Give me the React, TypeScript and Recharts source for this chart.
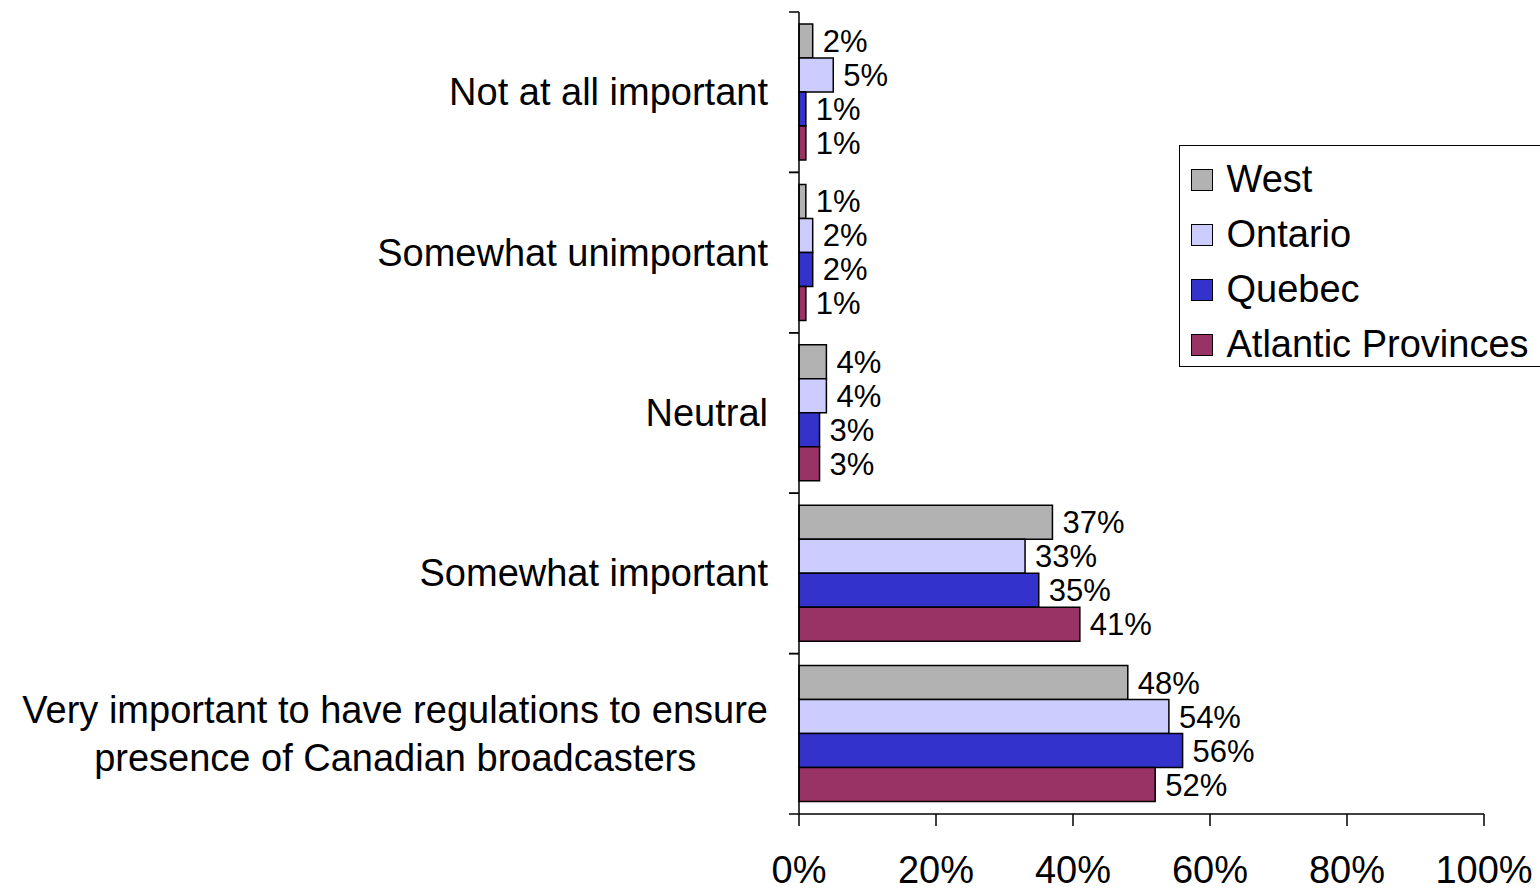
import { Bar, BarChart, LabelList, Legend, XAxis, YAxis } from "recharts"

const CATEGORIES = [
  "Not at all important",
  "Somewhat unimportant",
  "Neutral",
  "Somewhat important",
  "Very important to have regulations to ensure\npresence of Canadian broadcasters",
]
const WEST = [2, 1, 4, 37, 48]
const ONTARIO = [5, 2, 4, 33, 54]
const QUEBEC = [1, 2, 3, 35, 56]
const ATLANTIC = [1, 1, 3, 41, 52]
const X_TICKS = [0, 20, 40, 60, 80, 100]

const SERIES = [
  { key: "west", name: "West", values: WEST, color: "#B2B2B2" },
  { key: "ontario", name: "Ontario", values: ONTARIO, color: "#CCCCFF" },
  { key: "quebec", name: "Quebec", values: QUEBEC, color: "#3333CC" },
  { key: "atlantic", name: "Atlantic Provinces", values: ATLANTIC, color: "#993366" },
]

const W = 1540
const H = 892
const MARGIN = { top: 12, right: 56, bottom: 0, left: 0 }
const X_AXIS_H = 78
const Y_AXIS_W = 799
const BAND = (H - MARGIN.top - MARGIN.bottom - X_AXIS_H) / CATEGORIES.length
const TICK_SIZE = 10
const TICK_MARGIN = 21
const FONT_FAMILY = "'Liberation Sans', Arial, sans-serif"
const LABEL_SIZE = 38
const VALUE_SIZE = 31
const LINE_H = 48

const data = CATEGORIES.map((name, i) => {
  const row: Record<string, string | number> = { name }
  SERIES.forEach((s) => (row[s.key] = s.values[i]))
  return row
})

let measureCtx: CanvasRenderingContext2D | null = null
function textWidth(s: string) {
  if (!measureCtx) measureCtx = document.createElement("canvas").getContext("2d")
  if (!measureCtx) return s.length * LABEL_SIZE * 0.5
  measureCtx.font = `${LABEL_SIZE}px ${FONT_FAMILY}`
  return measureCtx.measureText(s).width
}

function CategoryTick(props: any) {
  const { x, y, payload } = props
  const lines = String(payload.value).split("\n")
  const axisX = x + TICK_MARGIN + TICK_SIZE
  const half = BAND / 2
  let anchorX = x
  let anchor: "end" | "middle" = "end"
  if (lines.length > 1) {
    const w = Math.max(...lines.map(textWidth))
    anchorX = x - w / 2
    anchor = "middle"
  }
  const firstDy = -((lines.length - 1) * LINE_H) / 2 + LABEL_SIZE * 0.34
  return (
    <g>
      <line x1={axisX - TICK_SIZE} x2={axisX} y1={y - half} y2={y - half} stroke="#000" strokeWidth={1.5} />
      <line x1={axisX - TICK_SIZE} x2={axisX} y1={y + half} y2={y + half} stroke="#000" strokeWidth={1.5} />
      <text x={anchorX} y={y} textAnchor={anchor} fontSize={LABEL_SIZE} fill="#000" fontFamily={FONT_FAMILY}>
        {lines.map((l, i) => (
          <tspan key={i} x={anchorX} dy={i === 0 ? firstDy : LINE_H}>
            {l}
          </tspan>
        ))}
      </text>
    </g>
  )
}

// legend keeps the series order (Recharts would sort it by name)
function LegendBox() {
  return (
    <div
      style={{
        border: "1.5px solid #000",
        background: "#fff",
        height: 222,
        boxSizing: "border-box",
        paddingTop: 6,
        paddingLeft: 10.5,
        overflow: "hidden",
        fontFamily: FONT_FAMILY,
      }}
    >
      {SERIES.map((s) => (
        <div key={s.key} style={{ display: "flex", alignItems: "center", height: 55 }}>
          <span
            style={{
              display: "inline-block",
              width: 22,
              height: 22,
              boxSizing: "border-box",
              border: "1.5px solid #000",
              background: s.color,
              marginRight: 14,
            }}
          />
          <span style={{ fontSize: LABEL_SIZE, color: "#000", lineHeight: "55px", whiteSpace: "nowrap" }}>{s.name}</span>
        </div>
      ))}
    </div>
  )
}

export default function App() {
  return (
    <div style={{ position: "absolute", left: 0, top: 0, fontFamily: FONT_FAMILY, background: "#fff" }}>
      <BarChart
        width={W}
        height={H}
        data={data}
        layout="vertical"
        margin={MARGIN}
        barCategoryGap={12}
        barGap={0}
      >
        <XAxis
          type="number"
          domain={[0, 100]}
          ticks={X_TICKS}
          tickFormatter={(v) => `${v}%`}
          height={X_AXIS_H}
          tickSize={12}
          tickMargin={30}
          axisLine={{ stroke: "#000", strokeWidth: 1.5 }}
          tickLine={{ stroke: "#000", strokeWidth: 1.5 }}
          tick={{ fill: "#000", fontSize: LABEL_SIZE, fontFamily: FONT_FAMILY }}
        />
        <YAxis
          type="category"
          dataKey="name"
          width={Y_AXIS_W}
          interval={0}
          tickSize={TICK_SIZE}
          tickMargin={TICK_MARGIN}
          tickLine={false}
          axisLine={{ stroke: "#000", strokeWidth: 1.5 }}
          tick={(p: any) => <CategoryTick {...p} />}
        />
        <Legend
          layout="vertical"
          align="center"
          verticalAlign="middle"
          content={() => <LegendBox />}
          wrapperStyle={{ left: 1179, top: 145, width: 364 }}
        />
        {SERIES.map((s) => (
          <Bar key={s.key} dataKey={s.key} name={s.name} fill={s.color} stroke="#000" strokeWidth={1.5} isAnimationActive={false}>
            <LabelList
              dataKey={s.key}
              position="right"
              offset={10}
              formatter={(v: any) => `${v}%`}
              fill="#000"
              fontSize={VALUE_SIZE}
              fontFamily={FONT_FAMILY}
            />
          </Bar>
        ))}
      </BarChart>
    </div>
  )
}
